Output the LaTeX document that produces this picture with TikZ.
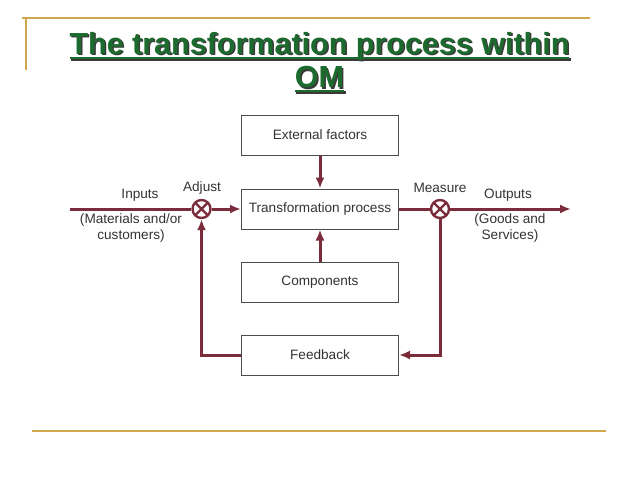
\documentclass[tikz,border=0pt]{standalone}
\usepackage{fontspec}
\setmainfont{Liberation Sans}
\usetikzlibrary{arrows.meta}
\definecolor{maroon}{HTML}{7B2C3A}
\definecolor{gold}{HTML}{D2A64A}
\definecolor{tgreen}{HTML}{1C6B2E}
\definecolor{tshadow}{HTML}{3A3A3A}
\definecolor{txt}{HTML}{333333}
\newcommand\myul[1]{\setbox0\hbox{#1}\rlap{\rule[-4.5pt]{\wd0}{2.5pt}}\box0}
\tikzset{
  blk/.style={draw=black!70, line width=1pt, minimum width=157pt, minimum height=40pt, inner sep=0pt, text=txt, font=\fontsize{13.6}{15}\selectfont},
  lbl/.style={text=txt, font=\fontsize{13.6}{16}\selectfont, align=center, inner sep=0pt},
  flow/.style={draw=maroon, line width=3pt},
  arr/.style={flow, -{Latex[length=11pt,width=9pt]}},
  xcirc/.style={circle, draw=maroon, line width=2.4pt, minimum size=18pt, inner sep=0pt,
    path picture={\draw[maroon, line width=2.2pt] (path picture bounding box.north west) -- (path picture bounding box.south east)
      (path picture bounding box.north east) -- (path picture bounding box.south west);}},
  ttl/.style={font=\bfseries\fontsize{30.5}{34}\selectfont, inner sep=0pt, anchor=base}
}
\begin{document}
\begin{tikzpicture}[x=1pt,y=-1pt]
\useasboundingbox (0,0) rectangle (638,479);
\fill[white] (0,0) rectangle (638,479);
% frame lines
\draw[gold, line width=1.8pt] (22,18) -- (590,18);
\draw[gold, line width=1.8pt] (26,18) -- (26,70);
\draw[gold, line width=1.8pt] (32,431) -- (606,431);
% title
\node[ttl, text=tshadow] (t1s) at (321,56) {\myul{The transformation process within}};
\node[ttl, text=tgreen] (t1) at (319.5,54.5) {\myul{The transformation process within}};
\node[ttl, text=tshadow] (t2s) at (321,89) {\myul{OM}};
\node[ttl, text=tgreen] (t2) at (319.5,87.5) {\myul{OM}};
% boxes
\node[blk] (ext) at (320,135) {External factors};
\node[blk] (tp) at (320,209) {Transformation process};
\node[blk] (comp) at (320,282) {Components};
\node[blk] (fb) at (320,355) {Feedback};
% circles
\node[xcirc] (adj) at (201.5,209) {};
\node[xcirc] (meas) at (440,209) {};
\coordinate (in) at (70,209);
\coordinate (out) at (571,209);
% labels
\node[lbl] (linp) at (140,195) {Inputs};
\node[lbl] (ladj) at (202,188) {Adjust};
\node[lbl] (lmat) at (131,228) {(Materials and/or\\customers)};
\node[lbl] (lmeas) at (440,188) {Measure};
\node[lbl] (lout) at (508,195) {Outputs};
\node[lbl] (lgood) at (510,228) {(Goods and\\Services)};
% connectors
\draw[flow] (in) -- (adj.west);
\draw[arr] (adj.east) -- (tp.west);
\draw[flow] (tp.east) -- (meas.west);
\draw[arr] (meas.east) -- (out);
\draw[arr] (ext.south) -- (tp.north);
\draw[arr] (comp.north) -- (tp.south);
\draw[arr] (meas.south) |- (fb.east);
\draw[arr] (fb.west) -| (adj.south);
\end{tikzpicture}
\end{document}
